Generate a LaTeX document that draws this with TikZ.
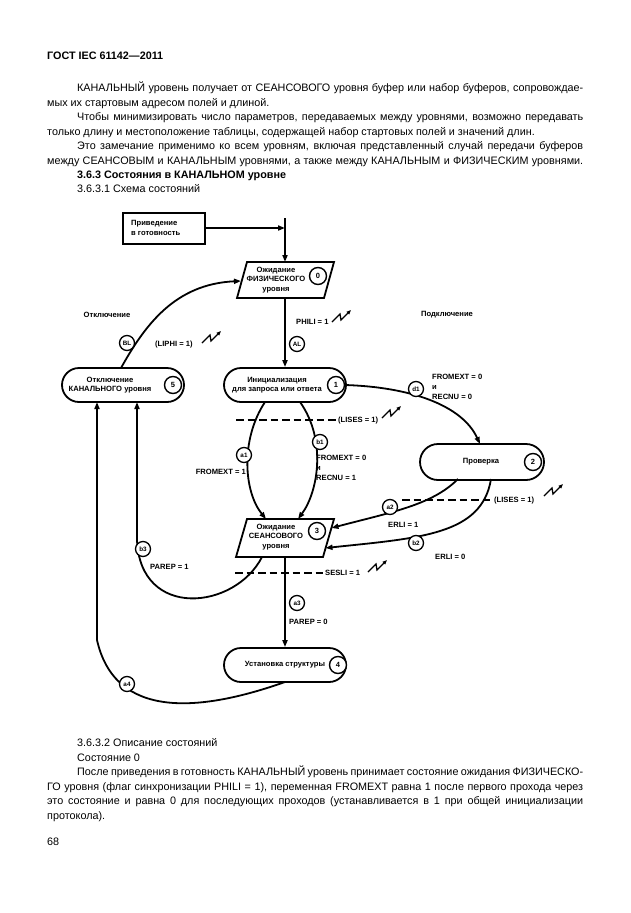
\documentclass[tikz,border=0pt]{standalone}
\usepackage{fontspec}
\setmainfont{Liberation Sans}
\usetikzlibrary{arrows.meta}
\newcommand\bodyfont{\fontsize{10.8}{14.3}\selectfont\spaceskip=0.27em plus 0.8em minus 0.14em\relax}
\newcommand\dgfont{\fontsize{7.6}{9.5}\selectfont\bfseries}
\newcommand\labfont{\fontsize{6.3}{7}\selectfont\bfseries}
\begin{document}
\begin{tikzpicture}[x=1pt,y=-1pt,
 ln/.style={line width=1.8pt},
 arr/.style={-{Triangle[length=7pt,width=5pt]}},
 dsh/.style={line width=1.8pt, dash pattern=on 7.5pt off 4pt},
 stad/.style={draw, line width=1.8pt, rounded corners=17pt, minimum width=122pt, minimum height=34pt, inner sep=0pt},
 stxt/.style={font=\dgfont, align=center, inner sep=0pt},
 numc/.style={circle, draw, line width=1.4pt, minimum size=17pt, inner sep=0pt, fill=white, font=\fontsize{7.5}{8}\selectfont\bfseries},
 labc/.style={circle, draw, line width=1.3pt, minimum size=15pt, inner sep=0pt, fill=white, font=\labfont},
 lbl/.style={font=\dgfont, inner sep=0pt, align=left},
 body/.style={font=\bodyfont, inner sep=0pt, anchor=base west},
 zap/.pic={\draw[line width=1.3pt, -{Triangle[length=4.5pt,width=3.5pt]}] (-10,6) -- (-2,-2) -- (-1,4) -- (9,-6);}]
\useasboundingbox (0,0) rectangle (630,913);
\fill[white] (0,0) rectangle (630,913);

% ---------- text above ----------
\node[body, font=\bodyfont\bfseries] (hdr) at (47,59) {ГОСТ IEC 61142—2011};
\node[body] (p1) at (77,91.5) {\hbox to 506pt{КАНАЛЬНЫЙ уровень получает от СЕАНСОВОГО уровня буфер или набор буферов, сопровождае-}};
\node[body] (p2) at (47,106) {мых их стартовым адресом полей и длиной.};
\node[body] (p3) at (77,120.5) {\hbox to 506pt{Чтобы минимизировать число параметров, передаваемых между уровнями, возможно передавать}};
\node[body] (p4) at (47,135) {только длину и местоположение таблицы, содержащей набор стартовых полей и значений длин.};
\node[body] (p5) at (77,149.5) {\hbox to 506pt{Это замечание применимо ко всем уровням, включая представленный случай передачи буферов}};
\node[body] (p6) at (47,164) {\hbox to 536pt{между СЕАНСОВЫМ и КАНАЛЬНЫМ уровнями, а также между КАНАЛЬНЫМ и ФИЗИЧЕСКИМ уровнями.}};
\node[body, font=\bodyfont\bfseries] (p7) at (77,178.3) {3.6.3 Состояния в КАНАЛЬНОМ уровне};
\node[body] (p8) at (77,192.5) {3.6.3.1 Схема состояний};

% ---------- text below ----------
\node[body] (q1) at (77,746.5) {3.6.3.2 Описание состояний};
\node[body] (q2) at (77,761) {Состояние 0};
\node[body] (q3) at (77,775.5) {\hbox to 506pt{После приведения в готовность КАНАЛЬНЫЙ уровень принимает состояние ожидания ФИЗИЧЕСКО-}};
\node[body] (q4) at (47,790) {\hbox to 536pt{ГО уровня (флаг синхронизации PHILI = 1), переменная FROMEXT равна 1 после первого прохода через}};
\node[body] (q5) at (47,804.5) {\hbox to 536pt{это состояние и равна 0 для последующих проходов (устанавливается в 1 при общей инициализации}};
\node[body] (q6) at (47,819) {протокола).};
\node[body] (pg) at (47,845.5) {68};

% ---------- diagram: shapes ----------
\node[draw, line width=2pt, minimum width=82pt, minimum height=31pt, inner sep=0pt] (r) at (164,228) {};
\node[stxt, align=left, anchor=west] (rt) at (131,228) {Приведение\\в готовность};

% state 0 (parallelogram)
\coordinate (s0a) at (247,262); \coordinate (s0b) at (334,262);
\coordinate (s0c) at (324,298); \coordinate (s0d) at (237,298);
\draw[line width=1.8pt] (s0a) -- (s0b) -- (s0c) -- (s0d) -- cycle;
\node[stxt] (s0) at (276,280) {Ожидание\\ФИЗИЧЕСКОГО\\уровня};
\node[numc] (n0) at (318,276) {0};
\coordinate (s0n) at (285,262); \coordinate (s0s) at (285,298); \coordinate (s0w) at (241,281);

% state 1
\node[stad] (s1) at (285,385) {};
\node[stxt] (s1t) at (277,385) {Инициализация\\для запроса или ответа};
\node[numc] (n1) at (336,385) {1};

% state 5
\node[stad] (s5) at (123,385) {};
\node[stxt] (s5t) at (110,385) {Отключение\\КАНАЛЬНОГО уровня};
\node[numc] (n5) at (173,385) {5};

% state 2
\node[stad, minimum width=124pt, minimum height=36pt, rounded corners=18pt] (s2) at (482,462) {};
\node[stxt] (s2t) at (481,462) {Проверка};
\node[numc] (n2) at (533,462) {2};

% state 3 (parallelogram)
\coordinate (s3a0) at (247,519); \coordinate (s3b0) at (334,519);
\coordinate (s3c0) at (323,557); \coordinate (s3d0) at (236,557);
\draw[line width=1.8pt] (s3a0) -- (s3b0) -- (s3c0) -- (s3d0) -- cycle;
\node[stxt] (s3) at (276,537) {Ожидание\\СЕАНСОВОГО\\уровня};
\node[numc] (n3) at (317,531) {3};

% state 4
\node[stad] (s4) at (285,665) {};
\node[stxt] (s4t) at (285,665) {Установка структуры};
\node[numc] (n4) at (338,665) {4};

% ---------- connectors ----------
\coordinate (Jt) at (285,218);
\coordinate (J) at (285,228);
\draw[ln,arr] (r) -- (J);
\draw[ln] (Jt) -- (J);
\draw[ln,arr] (J) -- (s0n);

\draw[ln,arr] (s0s) -- (s1.north);
\node[labc] (AL) at (297,344) {AL};
\node[lbl, anchor=west] (phili) at (296,322) {PHILI = 1};
\pic at (342,316) {zap};

\coordinate (s5n) at (121,368);
\draw[ln,arr] (s5n) .. controls (145,325) and (175,284) .. (s0w);
\node[labc] (BL) at (127,343) {BL};
\node[lbl, anchor=west] (liphi) at (155,345) {(LIPHI = 1)};
\pic at (212,337) {zap};

\node[lbl] (otk) at (107,315) {Отключение};
\node[lbl] (pod) at (447,315) {Подключение};

\coordinate (s1e) at (345,385);
\coordinate (s2n) at (480,444);
\draw[ln,arr] (s1e) .. controls (410,387) and (462,405) .. (s2n);
\node[labc] (d1) at (416,389) {d1};
\node[lbl, anchor=west, font=\fontsize{7.6}{10}\selectfont\bfseries] (c1) at (432,387) {FROMEXT = 0\\и\\RECNU = 0};

\coordinate (s1a) at (265,402); \coordinate (s1b) at (300,402);
\coordinate (s3a) at (266,519); \coordinate (s3b) at (298,519);
\draw[ln,arr] (s1a) .. controls (240,440) and (244,492) .. (s3a);
\draw[ln,arr] (s1b) .. controls (327,440) and (318,492) .. (s3b);
\node[labc] (a1) at (244,455) {a1};
\node[labc] (b1) at (320,442) {b1};
\node[lbl, anchor=east] (f1) at (246,472) {FROMEXT = 1};
\node[lbl, anchor=west, font=\fontsize{7.6}{10}\selectfont\bfseries] (c2) at (316,468) {FROMEXT = 0\\и\\RECNU = 1};

\coordinate (dA1) at (236,420); \coordinate (dA2) at (336,420);
\draw[dsh] (dA1) -- (dA2);
\node[lbl, anchor=west] (lises1) at (338,421) {(LISES = 1)};
\pic at (392,412) {zap};

\coordinate (s2a) at (458,479); \coordinate (s2b) at (491,479);
\coordinate (s3e1) at (331.5,528); \coordinate (s3e2) at (325.5,548);
\draw[ln,arr] (s2a) .. controls (432,505) and (392,512) .. (s3e1);
\draw[ln,arr] (s2b) .. controls (482,535) and (420,538) .. (s3e2);
\node[labc] (a2) at (390,507) {a2};
\node[labc] (b2) at (416,543) {b2};
\node[lbl, anchor=west] (e1) at (388,525) {ERLI = 1};
\node[lbl, anchor=west] (e0) at (435,557) {ERLI = 0};

\coordinate (dB1) at (402,500); \coordinate (dB2) at (490,500);
\draw[dsh] (dB1) -- (dB2);
\node[lbl, anchor=west] (lises2) at (494,501) {(LISES = 1)};
\pic at (554,490) {zap};

\coordinate (s3s) at (285,557);
\draw[ln,arr] (s3s) -- (s4.north);
\node[labc] (a3) at (297,603) {a3};
\node[lbl, anchor=west] (pr0) at (289,622) {PAREP = 0};

\coordinate (dC1) at (235,573); \coordinate (dC2) at (323,573);
\draw[dsh] (dC1) -- (dC2);
\node[lbl, anchor=west] (sesli) at (325,573) {SESLI = 1};
\pic at (378,566) {zap};

\coordinate (s3c) at (262,557); \coordinate (s5b) at (137,402);
\draw[ln,arr] (s3c) .. controls (235,610) and (140,620) .. (137,540) -- (s5b);
\node[labc] (b3) at (143,549) {b3};
\node[lbl, anchor=west] (pr1) at (150,567) {PAREP = 1};

\coordinate (s4s) at (285,682); \coordinate (s5a) at (97,402);
\draw[ln,arr] (s4s) .. controls (200,712) and (115,720) .. (97,640) -- (s5a);
\node[labc] (a4) at (127,684) {a4};
\end{tikzpicture}
\end{document}
